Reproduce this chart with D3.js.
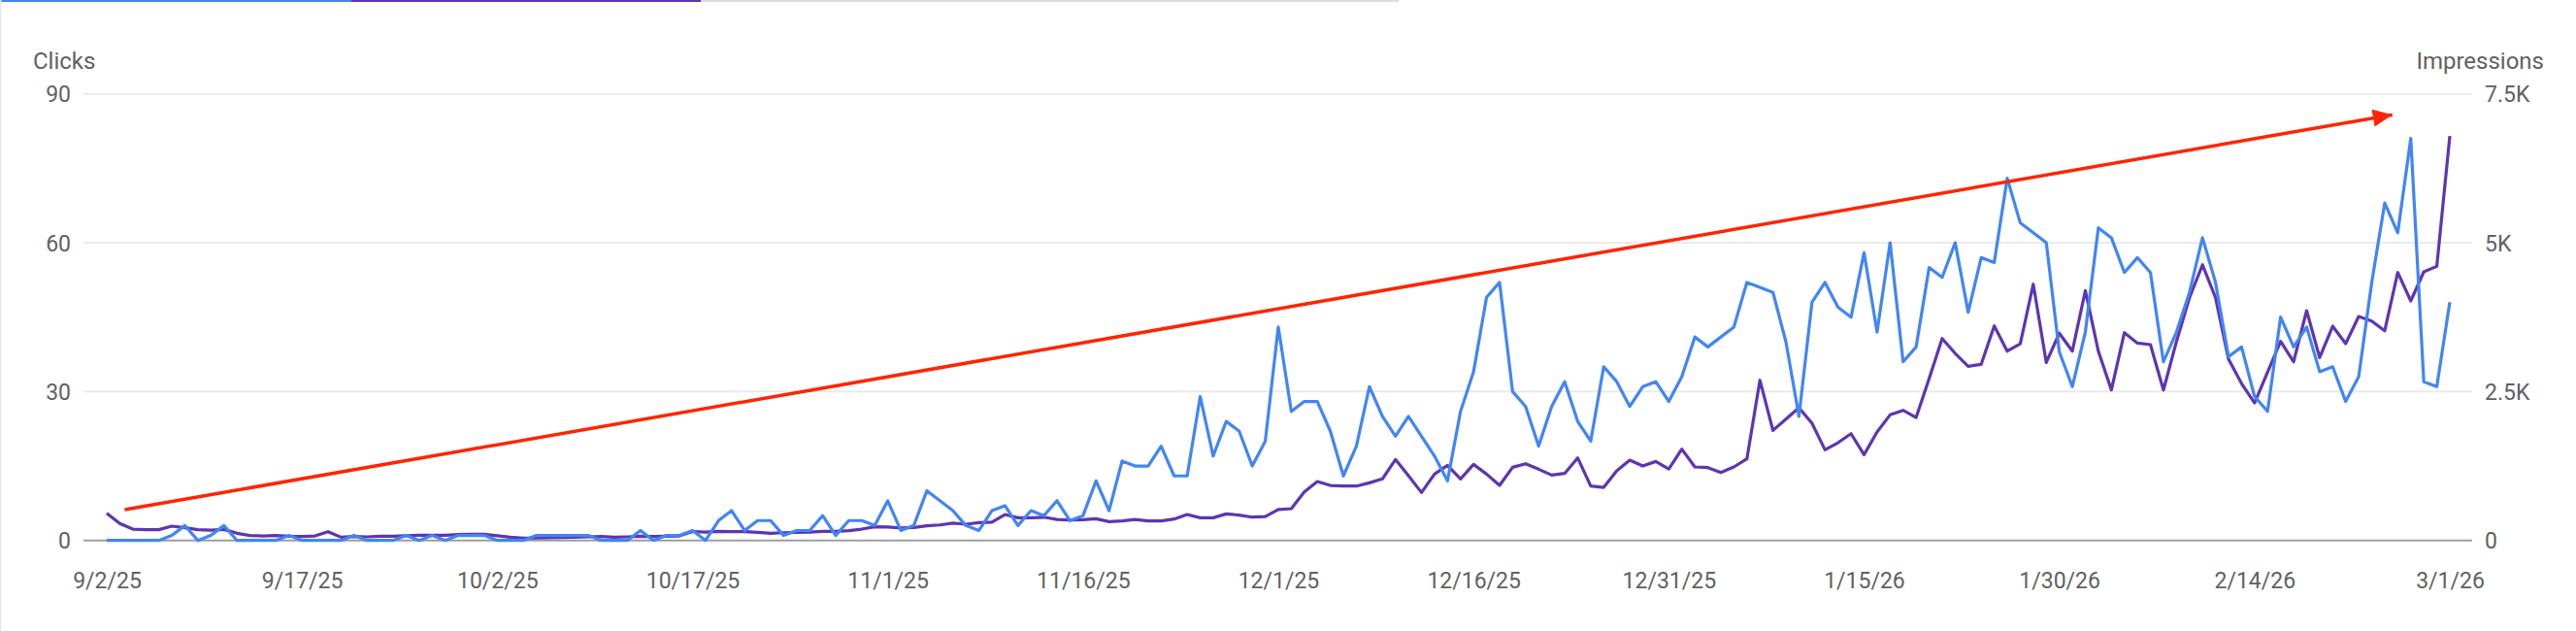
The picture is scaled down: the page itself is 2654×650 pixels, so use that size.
<!DOCTYPE html>
<html>
<head>
<meta charset="utf-8">
<script src="https://cdn.jsdelivr.net/npm/d3@7"></script>
<style>
  body { margin: 0; background: #fff; }
  text { font-family: Roboto, "Noto Sans", sans-serif; fill: #616161; }
</style>
</head>
<body>
<div id="chart"></div>
<script>
"use strict";

/* Daily values, 9/2/25 through 3/1/26 */
const START_DATE = new Date(2025, 8, 2);

const clicks = [
  0, 0, 0, 0, 0, 1, 3, 0, 1, 3, 0,
  0, 0, 0, 1, 0, 0, 0, 0, 1, 0,
  0, 0, 1, 0, 1, 0, 1, 1, 1, 0,
  0, 0, 1, 1, 1, 1, 1, 0, 0, 0,
  2, 0, 1, 1, 2, 0, 4, 6, 2, 4,
  4, 1, 2, 2, 5, 1, 4, 4, 3, 8,
  2, 3, 10, 8, 6, 3, 2, 6, 7, 3,
  6, 5, 8, 4, 5, 12, 6, 16, 15, 15,
  19, 13, 13, 29, 17, 24, 22, 15, 20, 43,
  26, 28, 28, 22, 13, 19, 31, 25, 21, 25,
  21, 17, 12, 26, 34, 49, 52, 30, 27, 19,
  27, 32, 24, 20, 35, 32, 27, 31, 32, 28,
  33, 41, 39, 41, 43, 52, 51, 50, 40, 25,
  48, 52, 47, 45, 58, 42, 60, 36, 39, 55,
  53, 60, 46, 57, 56, 73, 64, 62, 60, 38,
  31, 42, 63, 61, 54, 57, 54, 36, 42, 50,
  61, 52, 37, 39, 29, 26, 45, 39, 43, 34,
  35, 28, 33, 52, 68, 62, 81, 32, 31, 48
];

const impressions = [
  456, 283, 190, 180, 180, 240, 212, 180, 174, 185, 120,
  82, 76, 82, 70, 65, 76, 147, 54, 65, 60,
  70, 70, 80, 87, 87, 87, 98, 103, 103, 80,
  54, 40, 40, 45, 50, 55, 60, 65, 54, 60,
  70, 65, 70, 76, 150, 141, 152, 147, 147, 136,
  120, 130, 136, 141, 152, 152, 163, 190, 230, 225,
  210, 217, 245, 260, 290, 272, 300, 305, 435, 380,
  380, 390, 353, 342, 348, 364, 315, 326, 353, 326,
  326, 359, 435, 380, 380, 446, 424, 391, 400, 520,
  533, 815, 989, 924, 913, 913, 967, 1033, 1359, 1087,
  804, 1114, 1261, 1033, 1277, 1114, 924, 1228, 1288, 1196,
  1098, 1125, 1386, 913, 891, 1168, 1348, 1250, 1326, 1200,
  1533, 1234, 1223, 1141, 1234, 1370, 2690, 1848, 2038, 2228,
  1967, 1522, 1641, 1793, 1440, 1821, 2109, 2185, 2065, 2717,
  3391, 3141, 2924, 2957, 3603, 3179, 3304, 4304, 2989, 3480,
  3179, 4196, 3179, 2527, 3489, 3315, 3288, 2527, 3342, 4076,
  4630, 4076, 3043, 2636, 2310, 2826, 3342, 3000, 3859, 3071,
  3598, 3304, 3761, 3685, 3522, 4500, 4022, 4511, 4603, 6793
];

const xTickLabels = ["9/2/25", "9/17/25", "10/2/25", "10/17/25", "11/1/25",
  "11/16/25", "12/1/25", "12/16/25", "12/31/25", "1/15/26", "1/30/26",
  "2/14/26", "3/1/26"];
const clickTicks = [0, 30, 60, 90];
const impressionTicks = [0, 2500, 5000, 7500];

// trend arrow annotation, in data terms: [day offset, clicks]
const trendStart = [1.4, 6.2];
const trendEnd = [175.6, 85.8];

/* Set up svg */
const W = 2654, H = 650;
const svg = d3.select("#chart")
  .append("svg")
  .attr("width", W)
  .attr("height", H);

const dates = clicks.map((d, i) => d3.timeDay.offset(START_DATE, i));

const x = d3.scaleTime()
  .domain([dates[0], dates[dates.length - 1]])
  .range([110, 2524]);
const yLeft = d3.scaleLinear().domain([0, 90]).range([556.7, 96.7]);
const yRight = d3.scaleLinear().domain([0, 7500]).range([556.7, 96.7]);

// card frame bits: tab indicators on top, faint left border
svg.append("rect").attr("x", 0).attr("y", 0).attr("width", 362).attr("height", 2).attr("fill", "#4285f4");
svg.append("rect").attr("x", 362).attr("y", 0).attr("width", 360).attr("height", 2).attr("fill", "#5e35b1");
svg.append("rect").attr("x", 722).attr("y", 0).attr("width", 719).attr("height", 2).attr("fill", "#dadce0");
svg.append("rect").attr("x", 0).attr("y", 0).attr("width", 1.5).attr("height", H).attr("fill", "#e8eaed");

/* Gridlines */
const grid = svg.append("g");
grid.selectAll("line")
  .data(clickTicks)
  .enter()
  .append("line")
  .attr("x1", 86)
  .attr("x2", 2547)
  .attr("y1", d => yLeft(d))
  .attr("y2", d => yLeft(d))
  .attr("stroke", d => d === 0 ? "#9e9e9e" : "#ebebeb")
  .attr("stroke-width", 2);

/* Axes labels */
const leftAxis = d3.axisLeft(yLeft).tickValues(clickTicks).tickSize(0).tickPadding(0);
svg.append("g")
  .attr("transform", "translate(73,0)")
  .call(leftAxis)
  .call(g => g.select(".domain").remove())
  .call(g => g.selectAll("text")
    .attr("font-size", 23)
    .attr("font-family", null)
    .attr("dy", "0.36em"));

const rightAxis = d3.axisRight(yRight)
  .tickValues(impressionTicks)
  .tickSize(0)
  .tickPadding(0)
  .tickFormat(d => d === 0 ? "0" : (d / 1000) + "K");
svg.append("g")
  .attr("transform", "translate(2560,0)")
  .call(rightAxis)
  .call(g => g.select(".domain").remove())
  .call(g => g.selectAll("text")
    .attr("font-size", 23)
    .attr("font-family", null)
    .attr("dy", "0.36em"));

const bottomAxis = d3.axisBottom(x)
  .tickValues(xTickLabels.map((t, i) => d3.timeDay.offset(START_DATE, i * 15)))
  .tickSize(0)
  .tickPadding(0)
  .tickFormat((d, i) => xTickLabels[i]);
svg.append("g")
  .attr("transform", "translate(0,590)")
  .call(bottomAxis)
  .call(g => g.select(".domain").remove())
  .call(g => g.selectAll("text")
    .attr("font-size", 23)
    .attr("font-family", null)
    .attr("dy", "0.71em"));

svg.append("text")
  .attr("x", 34)
  .attr("y", 71)
  .attr("font-size", 24)
  .text("Clicks");

svg.append("text")
  .attr("x", 2621)
  .attr("y", 71)
  .attr("font-size", 24)
  .attr("text-anchor", "end")
  .text("Impressions");

/* Lines: impressions below, clicks on top */
const impLine = d3.line()
  .x((d, i) => x(dates[i]))
  .y(d => yRight(d));
const clickLine = d3.line()
  .x((d, i) => x(dates[i]))
  .y(d => yLeft(d));

svg.append("path")
  .datum(impressions)
  .attr("d", impLine)
  .attr("fill", "none")
  .attr("stroke", "#5e35b1")
  .attr("stroke-width", 3.2)
  .attr("stroke-linejoin", "round");

svg.append("path")
  .datum(clicks)
  .attr("d", clickLine)
  .attr("fill", "none")
  .attr("stroke", "#4285f4")
  .attr("stroke-width", 3.2)
  .attr("stroke-linejoin", "round");

/* Red trend arrow */
svg.append("defs")
  .append("marker")
  .attr("id", "arrowhead")
  .attr("markerUnits", "userSpaceOnUse")
  .attr("markerWidth", 22)
  .attr("markerHeight", 20)
  .attr("refX", 20)
  .attr("refY", 9)
  .attr("orient", "auto")
  .append("path")
  .attr("d", "M0,0 L20,9 L0,18 Z")
  .attr("fill", "#ff2400");

const ax1 = x(d3.timeHour.offset(START_DATE, trendStart[0] * 24));
const ax2 = x(d3.timeHour.offset(START_DATE, trendEnd[0] * 24));
svg.append("line")
  .attr("x1", ax1)
  .attr("y1", yLeft(trendStart[1]))
  .attr("x2", ax2)
  .attr("y2", yLeft(trendEnd[1]))
  .attr("stroke", "#ff2400")
  .attr("stroke-width", 3.5)
  .attr("marker-end", "url(#arrowhead)");
</script>
</body>
</html>
